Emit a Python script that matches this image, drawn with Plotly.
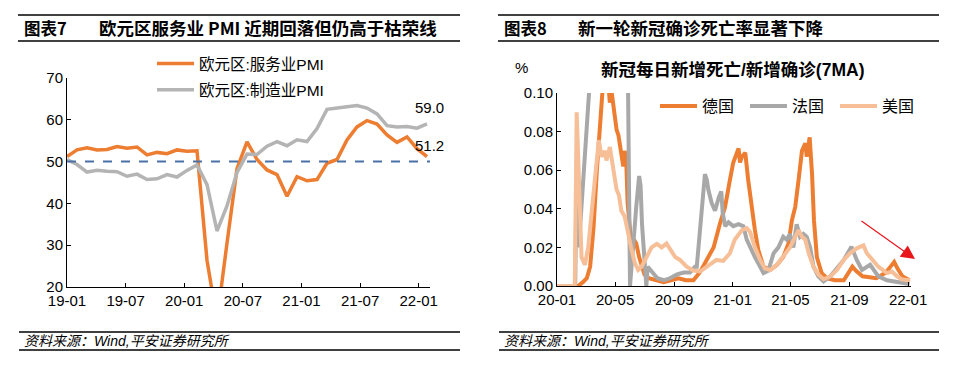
import plotly.graph_objects as go

FONT = "Arial, 'Liberation Sans', 'Noto Sans CJK SC', sans-serif"

# ---------------- Left panel data (monthly PMI) ----------------
months = ["2019-01", "2019-02", "2019-03", "2019-04", "2019-05", "2019-06", "2019-07", "2019-08",
          "2019-09", "2019-10", "2019-11", "2019-12", "2020-01", "2020-02", "2020-03", "2020-04",
          "2020-05", "2020-06", "2020-07", "2020-08", "2020-09", "2020-10", "2020-11", "2020-12",
          "2021-01", "2021-02", "2021-03", "2021-04", "2021-05", "2021-06", "2021-07", "2021-08",
          "2021-09", "2021-10", "2021-11", "2021-12", "2022-01"]
services_pmi = [51.2, 52.8, 53.3, 52.8, 52.9, 53.6, 53.2, 53.5, 51.6, 52.2, 51.9, 52.8,
                52.5, 52.6, 26.4, 12.0, 30.5, 48.3, 54.7, 50.5, 48.0, 46.9, 41.7, 46.4,
                45.4, 45.7, 49.6, 50.5, 55.2, 58.3, 59.8, 59.0, 56.4, 54.6, 55.9, 53.1, 51.2]
manufacturing_pmi = [50.5, 49.3, 47.5, 47.9, 47.7, 47.6, 46.5, 47.0, 45.7, 45.9, 46.9, 46.3,
                     47.9, 49.2, 44.5, 33.4, 39.4, 47.4, 51.8, 51.7, 53.7, 54.8, 53.8, 55.2,
                     54.8, 57.9, 62.5, 62.9, 63.1, 63.4, 62.8, 61.4, 58.6, 58.3, 58.4, 58.0, 59.0]
left_ticks = ["2019-01", "2019-07", "2020-01", "2020-07", "2021-01", "2021-07", "2022-01"]
left_tick_text = ["19-01", "19-07", "20-01", "20-07", "21-01", "21-07", "22-01"]
boom_bust_line = 50

# ---------------- Right panel data (daily deaths / daily cases, 7MA) ----------------
de_dates = ["2020-01-01", "2020-02-14", "2020-02-24", "2020-03-03", "2020-03-10", "2020-03-17",
            "2020-03-24", "2020-03-31", "2020-04-03", "2020-04-08", "2020-04-13", "2020-04-17",
            "2020-04-20", "2020-04-24", "2020-04-27", "2020-05-01", "2020-05-04", "2020-05-08",
            "2020-05-11", "2020-05-15", "2020-05-18", "2020-05-21", "2020-05-24", "2020-05-27",
            "2020-06-01", "2020-06-05", "2020-06-09", "2020-06-14", "2020-06-20", "2020-06-25",
            "2020-07-01", "2020-07-10", "2020-07-25", "2020-08-10", "2020-08-25", "2020-09-10",
            "2020-09-25", "2020-10-11", "2020-10-25", "2020-11-08", "2020-11-22", "2020-12-06",
            "2020-12-16", "2020-12-26", "2021-01-02", "2021-01-13", "2021-01-16", "2021-01-20",
            "2021-01-27", "2021-02-02", "2021-02-09", "2021-02-16", "2021-02-23", "2021-03-06",
            "2021-03-20", "2021-04-03", "2021-04-16", "2021-04-27", "2021-05-04", "2021-05-11",
            "2021-05-18", "2021-05-25", "2021-06-01", "2021-06-04", "2021-06-10", "2021-06-15",
            "2021-06-19", "2021-06-25", "2021-07-05", "2021-07-16", "2021-08-01", "2021-08-20",
            "2021-09-07", "2021-09-14", "2021-09-28", "2021-10-27", "2021-11-16", "2021-11-26",
            "2021-12-03", "2021-12-10", "2021-12-20", "2022-01-04"]
de_vals = [0.0, 0.0, 0.002, 0.004, 0.01, 0.03,
           0.06, 0.09, 0.102, 0.12, 0.13, 0.105,
           0.095, 0.1, 0.093, 0.088, 0.081, 0.078,
           0.074, 0.068, 0.062, 0.07, 0.066, 0.043,
           0.03, 0.018, 0.024, 0.022, 0.015, 0.01,
           0.006, 0.004, 0.003, 0.002, 0.003, 0.004,
           0.003, 0.003, 0.0073, 0.0135, 0.02, 0.033,
           0.041, 0.055, 0.064, 0.0713, 0.064, 0.067,
           0.069, 0.055, 0.041, 0.029, 0.0187, 0.01,
           0.0083, 0.011, 0.015, 0.022, 0.034, 0.041,
           0.055, 0.07, 0.074, 0.067, 0.077, 0.058,
           0.034, 0.015, 0.0067, 0.004, 0.003, 0.003,
           0.01, 0.008, 0.005, 0.004, 0.007, 0.01,
           0.0125, 0.009, 0.005, 0.003]

fr_dates = ["2020-01-01", "2020-02-08", "2020-02-10", "2020-02-14", "2020-02-18", "2020-02-24",
            "2020-03-02", "2020-03-09", "2020-03-20", "2020-04-10", "2020-05-01", "2020-05-21",
            "2020-05-28", "2020-06-01", "2020-06-04", "2020-06-08", "2020-06-14", "2020-06-20",
            "2020-06-23", "2020-06-26", "2020-07-01", "2020-07-05", "2020-07-08", "2020-07-18",
            "2020-07-28", "2020-08-11", "2020-08-23", "2020-09-07", "2020-09-21", "2020-10-04",
            "2020-10-14", "2020-10-18", "2020-10-25", "2020-11-01", "2020-11-04", "2020-11-08",
            "2020-11-11", "2020-11-18", "2020-11-25", "2020-12-03", "2020-12-08", "2020-12-11",
            "2020-12-16", "2020-12-23", "2021-01-02", "2021-01-13", "2021-01-23", "2021-01-30",
            "2021-02-06", "2021-02-16", "2021-02-27", "2021-03-06", "2021-03-16", "2021-03-27",
            "2021-04-06", "2021-04-16", "2021-04-23", "2021-04-30", "2021-05-07", "2021-05-14",
            "2021-05-21", "2021-05-28", "2021-06-04", "2021-06-11", "2021-06-18", "2021-06-28",
            "2021-07-09", "2021-07-23", "2021-08-20", "2021-09-05", "2021-09-16", "2021-09-27",
            "2021-10-14", "2021-10-31", "2021-11-18", "2021-12-05", "2021-12-22", "2022-01-04"]
fr_vals = [0.0, 0.0, 0.045, 0.02, 0.03, 0.055,
           0.08, 0.105, 0.15, 0.2, 0.2, 0.15,
           0.1, 0.0, 0.01, 0.025, 0.041, 0.057,
           0.052, 0.032, 0.016, 0.0, 0.01, 0.007,
           0.004, 0.003, 0.004, 0.006, 0.007, 0.007,
           0.01, 0.01, 0.029, 0.046, 0.058, 0.055,
           0.05, 0.043, 0.039, 0.046, 0.049, 0.038,
           0.031, 0.033, 0.031, 0.032, 0.031, 0.024,
           0.02, 0.015, 0.01, 0.0067, 0.008, 0.017,
           0.02, 0.0255, 0.024, 0.027, 0.02, 0.032,
           0.0255, 0.027, 0.0255, 0.02, 0.01, 0.005,
           0.0024, 0.005, 0.0135, 0.0204, 0.0135, 0.0083,
           0.011, 0.005, 0.003, 0.0024, 0.0015, 0.001]

us_dates = ["2020-01-01", "2020-02-07", "2020-02-11", "2020-02-14", "2020-02-18", "2020-02-21",
            "2020-02-28", "2020-03-06", "2020-03-14", "2020-03-21", "2020-03-28", "2020-04-03",
            "2020-04-10", "2020-04-13", "2020-04-20", "2020-04-27", "2020-05-04", "2020-05-09",
            "2020-05-14", "2020-05-21", "2020-05-28", "2020-06-04", "2020-06-11", "2020-06-18",
            "2020-06-25", "2020-07-06", "2020-07-16", "2020-07-27", "2020-08-06", "2020-08-16",
            "2020-08-23", "2020-09-03", "2020-09-13", "2020-09-27", "2020-10-11", "2020-10-25",
            "2020-11-08", "2020-11-28", "2020-12-12", "2020-12-26", "2021-01-05", "2021-01-20",
            "2021-01-30", "2021-02-06", "2021-02-16", "2021-02-27", "2021-03-09", "2021-03-20",
            "2021-04-03", "2021-04-16", "2021-04-30", "2021-05-11", "2021-05-18", "2021-05-25",
            "2021-06-01", "2021-06-08", "2021-06-18", "2021-06-28", "2021-07-09", "2021-07-23",
            "2021-08-06", "2021-08-20", "2021-09-02", "2021-09-16", "2021-09-30", "2021-10-07",
            "2021-10-18", "2021-10-31", "2021-11-18", "2021-11-28", "2021-12-09", "2021-12-19",
            "2021-12-30", "2022-01-05"]
us_vals = [0.0, 0.0, 0.09, 0.06, 0.038, 0.015,
           0.011, 0.02, 0.038, 0.058, 0.0756, 0.067,
           0.07, 0.065, 0.072, 0.06, 0.05, 0.047,
           0.039, 0.036, 0.027, 0.019, 0.012, 0.0083,
           0.01, 0.015, 0.02, 0.0218, 0.02, 0.022,
           0.019, 0.015, 0.0135, 0.01, 0.008, 0.0075,
           0.01, 0.0135, 0.013, 0.017, 0.024, 0.029,
           0.03, 0.028, 0.02, 0.0135, 0.009, 0.0083,
           0.011, 0.015, 0.02, 0.0255, 0.029, 0.0255,
           0.024, 0.017, 0.01, 0.006, 0.0035, 0.005,
           0.0083, 0.0135, 0.017, 0.0195, 0.021, 0.017,
           0.0135, 0.01, 0.0067, 0.0075, 0.005, 0.0035,
           0.003, 0.0035]

# ---------------- Styles ----------------
ORANGE = "#ED7D31"
GRAY_L = "#B4B4B4"
GRAY_R = "#A8A8A8"
PEACH = "#F6BF97"
DASH_BLUE = "#4A70A8"

W, H = 961, 371
def px_x(v):
    return v / W
def px_y(v):
    return 1 - v / H

fig = go.Figure()

x_idx = list(range(len(months)))
fig.add_trace(go.Scatter(x=x_idx, y=services_pmi, mode="lines", name="欧元区:服务业PMI",
                         line=dict(color=ORANGE, width=3.5), xaxis="x", yaxis="y",
                         legend="legend", legendgroup="a"))
fig.add_trace(go.Scatter(x=x_idx, y=manufacturing_pmi, mode="lines", name="欧元区:制造业PMI",
                         line=dict(color=GRAY_L, width=3.5), xaxis="x", yaxis="y",
                         legend="legend", legendgroup="b"))

fig.add_trace(go.Scatter(x=de_dates, y=de_vals, mode="lines", name="德国",
                         line=dict(color=ORANGE, width=4), xaxis="x2", yaxis="y2",
                         legend="legend2"))
fig.add_trace(go.Scatter(x=fr_dates, y=fr_vals, mode="lines", name="法国",
                         line=dict(color=GRAY_R, width=4), xaxis="x2", yaxis="y2",
                         legend="legend2"))
fig.add_trace(go.Scatter(x=us_dates, y=us_vals, mode="lines", name="美国",
                         line=dict(color=PEACH, width=4), xaxis="x2", yaxis="y2",
                         legend="legend2"))

# tick spacing of the source chart is slightly tighter than point spacing
TICK_SCALE = 0.977
left_tickvals = [months.index(m) * TICK_SCALE for m in left_ticks]

axis_common = dict(showline=True, linecolor="black", linewidth=1, ticks="inside",
                   ticklen=4, tickcolor="black", showgrid=False, zeroline=False,
                   automargin=False,
                   tickfont=dict(family=FONT, size=15, color="black"))

fig.update_layout(
    template="none",
    width=W, height=H, margin=dict(l=0, r=0, t=0, b=0, pad=0, autoexpand=False),
    paper_bgcolor="white", plot_bgcolor="white",
    font=dict(family=FONT, color="black"),
    xaxis=dict(domain=[px_x(67), px_x(430)], range=[0, 36.3], tickvals=left_tickvals,
               ticktext=left_tick_text, anchor="y", **axis_common),
    yaxis=dict(domain=[1 - 287 / H, 1 - 78 / H], range=[20, 70], dtick=10, anchor="x",
               **axis_common),
    xaxis2=dict(domain=[px_x(557), px_x(911)], type="date",
                range=["2020-01-01", "2022-01-07"], tick0="2020-01-01", dtick="M4",
                tickformat="%y-%m", anchor="y2", **axis_common),
    yaxis2=dict(domain=[1 - 286 / H, 1 - 93 / H], range=[0, 0.1], dtick=0.02,
                tickformat=".2f", anchor="x2", **axis_common),
    legend=dict(x=px_x(152), y=px_y(47), xanchor="left", yanchor="top", orientation="v",
                font=dict(family=FONT, size=15.5, color="black"), bgcolor="rgba(0,0,0,0)",
                tracegroupgap=3, itemwidth=37),
    legend2=dict(x=px_x(655), y=px_y(89), xanchor="left", yanchor="top", orientation="h",
                 font=dict(family=FONT, size=16, color="black"), bgcolor="rgba(0,0,0,0)",
                 itemwidth=37, entrywidth=38, entrywidthmode="pixels"),
    showlegend=True,
)

# reference line at 50
fig.add_shape(type="line", xref="x domain", yref="y", x0=0, x1=1,
              y0=boom_bust_line, y1=boom_bust_line,
              line=dict(color=DASH_BLUE, width=2, dash="dash"))

# end value labels
fig.add_annotation(x=x_idx[-1], y=manufacturing_pmi[-1], xref="x", yref="y",
                   text=f"{manufacturing_pmi[-1]:.1f}", showarrow=False, yshift=16, xshift=2,
                   font=dict(family=FONT, size=15, color="black"))
fig.add_annotation(x=x_idx[-1], y=services_pmi[-1], xref="x", yref="y",
                   text=f"{services_pmi[-1]:.1f}", showarrow=False, yshift=11, xshift=2,
                   font=dict(family=FONT, size=15, color="black"))

# titles
PREFIX_FONT = dict(family="'Noto Sans CJK SC', Arial, sans-serif", size=16.5, color="black")
TITLE_FONT = dict(family="'Noto Sans CJK SC', Arial, sans-serif", size=17.5, color="black")
for txt, xp, fnt in [("<b>图表7</b>", 22, PREFIX_FONT),
                     ("<b>欧元区服务业 PMI 近期回落但仍高于枯荣线</b>", 97, TITLE_FONT),
                     ("<b>图表8</b>", 502, PREFIX_FONT),
                     ("<b>新一轮新冠确诊死亡率显著下降</b>", 576, TITLE_FONT)]:
    fig.add_annotation(x=px_x(xp), y=px_y(28), xref="paper", yref="paper", text=txt,
                       showarrow=False, xanchor="left", yanchor="middle", font=fnt)

for (x0, x1) in [(18, 460), (498, 939)]:
    for yy in (15, 41):
        fig.add_shape(type="line", xref="paper", yref="paper", x0=px_x(x0), x1=px_x(x1),
                      y0=px_y(yy), y1=px_y(yy), line=dict(color="black", width=1.5))
    for yy in (332, 350):
        fig.add_shape(type="line", xref="paper", yref="paper", x0=px_x(x0 + 1), x1=px_x(x1),
                      y0=px_y(yy), y1=px_y(yy), line=dict(color="black", width=1.5))

for xp in (22, 502):
    fig.add_annotation(x=px_x(xp), y=px_y(341), xref="paper", yref="paper",
                       text="<i>资料来源：Wind,平安证券研究所</i>", showarrow=False,
                       xanchor="left", yanchor="middle",
                       font=dict(family=FONT, size=14, color="black"))

# right chart inner title and unit
fig.add_annotation(x=px_x(732), y=px_y(70), xref="paper", yref="paper",
                   text="<b>新冠每日新增死亡/新增确诊(7MA)</b>", showarrow=False,
                   xanchor="center", yanchor="middle",
                   font=dict(family=FONT, size=17.5, color="black"))
fig.add_annotation(x=px_x(521), y=px_y(67), xref="paper", yref="paper", text="%",
                   showarrow=False, xanchor="center", yanchor="middle",
                   font=dict(family=FONT, size=15, color="black"))

# red arrow
fig.add_annotation(x=px_x(915), y=px_y(259), xref="paper", yref="paper", text="",
                   showarrow=True, ax=-55, ay=-39, arrowcolor="#E8151B", arrowwidth=1.2,
                   arrowhead=2, arrowsize=2.3)

fig.write_html("out.html", config={"displayModeBar": False},
               post_script="document.body.style.margin='0px';document.body.style.overflow='hidden';")
